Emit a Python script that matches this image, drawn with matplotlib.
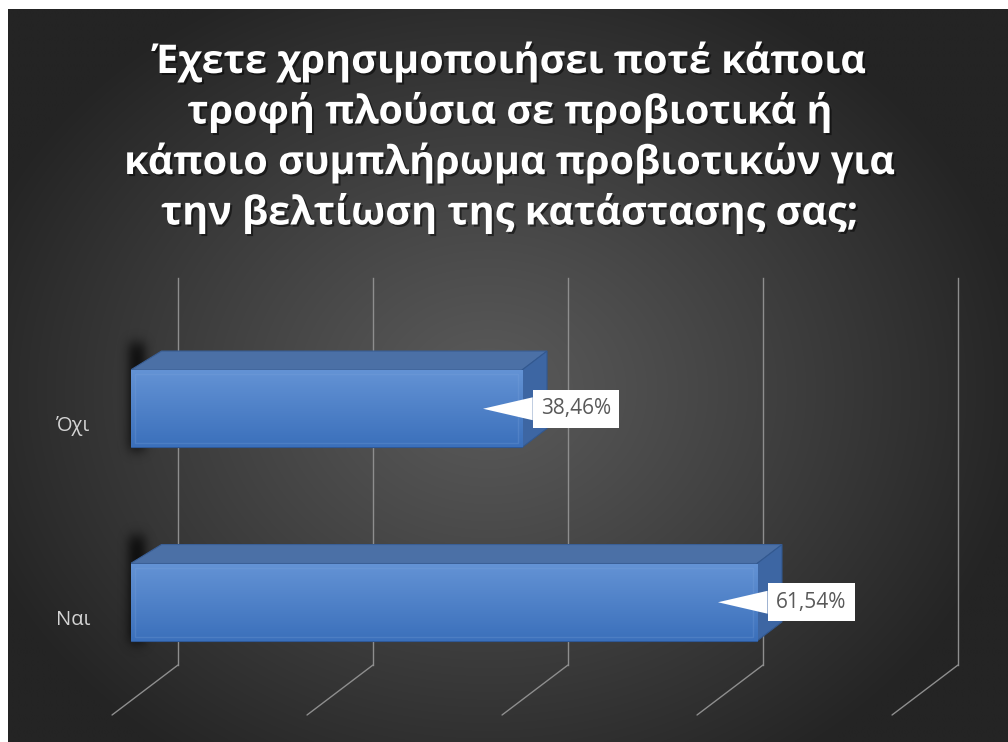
import numpy as np
import matplotlib
matplotlib.use("Agg")
import matplotlib.pyplot as plt
from matplotlib import patheffects as pe
from matplotlib.patches import Polygon
from matplotlib.transforms import IdentityTransform, offset_copy

# survey answers (bottom to top)
categories = ['Ναι', 'Όχι']
shares = [61.54, 38.46]
value_labels = ['61,54%', '38,46%']
grid_ticks = [0, 20, 40, 60, 80]
title_lines = [
    'Έχετε χρησιμοποιήσει ποτέ κάποια',
    'τροφή πλούσια σε προβιοτικά ή',
    'κάποιο συμπλήρωμα προβιοτικών για',
    'την βελτίωση της κατάστασης σας;',
]

W, H, DPI = 1008, 742, 100
FONT = ['Open Sans', 'DejaVu Sans']
GRID_COLOR = '#8e8e8e'
DEPTH_L, DEPTH_R, DEPTH_Y = 31, 25, 19   # 3-D extrusion of the bars, px


def px_rect(left, top, width, height):
    """Axes rectangle from pixel box measured from the top-left corner."""
    return [left / W, 1 - (top + height) / H, width / W, height / H]


def blur1d(a, sigma, axis):
    k = np.arange(-3 * sigma, 3 * sigma + 1)
    g = np.exp(-0.5 * (k / sigma) ** 2)
    g /= g.sum()
    return np.apply_along_axis(lambda v: np.convolve(v, g, mode='same'), axis, a)


fig = plt.figure(figsize=(W / DPI, H / DPI), dpi=DPI)
fig.patch.set_facecolor('white')

# dark radial backdrop
bg = fig.add_axes(px_rect(8, 9, 1000, 733), zorder=0)
bg.set_axis_off()
yy, xx = np.mgrid[0:1:400j, 0:1:560j]
r = np.hypot((xx - 0.48) / 0.8, (yy - 0.52) / 0.9)
t = np.clip(r / 0.68, 0, 1) ** 1.1
c_mid = np.array([0x5a, 0x5a, 0x5a]) / 255
c_edge = np.array([0x24, 0x24, 0x24]) / 255
bg.imshow(c_mid * (1 - t[..., None]) + c_edge * t[..., None],
          aspect='auto', extent=[0, 1, 0, 1], interpolation='bilinear')

# back wall with the value gridlines and their floor segments
wall = fig.add_axes(px_rect(178, 278, 780, 387), zorder=1)
wall.set_xlim(0, 80)
wall.set_ylim(0, 1)
wall.set_axis_off()
for v in grid_ticks:
    wall.plot([v, v], [0, 1], color=GRID_COLOR, lw=1, clip_on=False)
    wall.annotate('', xy=(v, 0), xytext=(-47.5, -36), textcoords='offset points',
                  annotation_clip=False,
                  arrowprops=dict(arrowstyle='-', color=GRID_COLOR, lw=1,
                                  shrinkA=0, shrinkB=0))

# front plane of the bars
ax = fig.add_axes(px_rect(130.5, 312, 814.4, 387), zorder=2)
ax.set_axis_off()
ypos = np.arange(len(categories))
bars = ax.barh(ypos, shares, height=0.4, color='#4f81c8',
               edgecolor='#2e5897', lw=0.8, zorder=3)

grad = np.linspace(0, 1, 64)[:, None, None]
c_top = np.array([0x64, 0x93, 0xd5]) / 255
c_bot = np.array([0x3b, 0x70, 0xbb]) / 255
face = c_top * (1 - grad) + c_bot * grad
for b in bars:
    im = ax.imshow(face, extent=[b.get_x(), b.get_x() + b.get_width(),
                                 b.get_y(), b.get_y() + b.get_height()],
                   aspect='auto', interpolation='bilinear', zorder=3.2)
    im.set_clip_path(b)
ax.set_xlim(0, 80)
ax.set_ylim(-0.5, 1.5)

for b in bars:
    x0, y0 = ax.transData.transform((b.get_x(), b.get_y()))
    x1, y1 = ax.transData.transform((b.get_x() + b.get_width(),
                                     b.get_y() + b.get_height()))
    # top and right faces of the box
    ax.add_patch(Polygon([(x0, y1), (x1, y1), (x1 + DEPTH_R, y1 + DEPTH_Y),
                          (x0 + DEPTH_L, y1 + DEPTH_Y)], closed=True,
                         transform=IdentityTransform(), fc='#4b70a6',
                         ec='#3a5f96', lw=0.8, zorder=3))
    ax.add_patch(Polygon([(x1, y1), (x1 + DEPTH_R, y1 + DEPTH_Y),
                          (x1 + DEPTH_R, y0 + DEPTH_Y), (x1, y0)], closed=True,
                         transform=IdentityTransform(), fc='#3d66a3',
                         ec='#32588f', lw=0.8, zorder=3))
    # faint bevel on the front face
    ax.add_patch(Polygon([(x0 + 4, y0 + 4), (x1 - 4, y0 + 4), (x1 - 4, y1 - 4),
                          (x0 + 4, y1 - 4)], closed=True,
                         transform=IdentityTransform(), fill=False,
                         ec='#7fa6de', lw=1, alpha=0.25, zorder=3.4))

    # soft drop shadow on the left of the bar
    pad = 36
    left, right = int(x0) - pad, int(x0) + pad
    bottom, top = int(y0) - pad, int(y1 + DEPTH_Y) + pad
    mask = np.zeros((top - bottom, right - left))
    rows = np.arange(top - bottom)[:, None]
    cols = np.arange(right - left)[None, :]
    core = ((cols >= pad - 1) & (cols <= pad + 14) &
            (rows >= pad - 2) & (rows <= (top - bottom) - pad + 8))
    mask[core] = 1.0
    mask = blur1d(blur1d(mask, 6, 0), 5, 1)
    rgba = np.zeros(mask.shape + (4,))
    rgba[..., 3] = 0.75 * mask
    fig.figimage(rgba[::-1], xo=left, yo=bottom, origin='upper', zorder=0.5)

# category labels, set a little below the bar centres
lab_tr = offset_copy(ax.get_yaxis_transform(), fig=fig, x=-40.5, y=-17.5, units='dots')
for y, name in zip(ypos, categories):
    ax.text(0, y, name, transform=lab_tr, ha='right', va='center',
            fontsize=14.5, color='#d4d4d4', family=FONT)

# value call-outs
tip_tr = offset_copy(ax.transData, fig=fig, x=-39, y=0, units='dots')
for y, v, txt in zip(ypos, shares, value_labels):
    ax.annotate(txt, xy=(v, y), xycoords=tip_tr, xytext=(67, 0),
                textcoords='offset points', ha='center', va='center',
                fontsize=15, color='#595959', family=FONT, zorder=5,
                annotation_clip=False,
                bbox=dict(boxstyle='square,pad=0.4', fc='white', ec='none'),
                arrowprops=dict(arrowstyle='wedge,tail_width=1.1,shrink_factor=0.5',
                                fc='white', ec='none', shrinkA=0, shrinkB=0))

# title
shadow = [pe.withSimplePatchShadow(offset=(1.5, -1.5), shadow_rgbFace='black', alpha=0.5)]
for i, line in enumerate(title_lines):
    fig.text(510 / W, 1 - (73 + 50.5 * i) / H, line, ha='center', va='baseline',
             fontsize=28.5, fontweight='bold', color='white', family=FONT,
             path_effects=shadow, zorder=4)

fig.savefig('out.png', dpi=DPI)
